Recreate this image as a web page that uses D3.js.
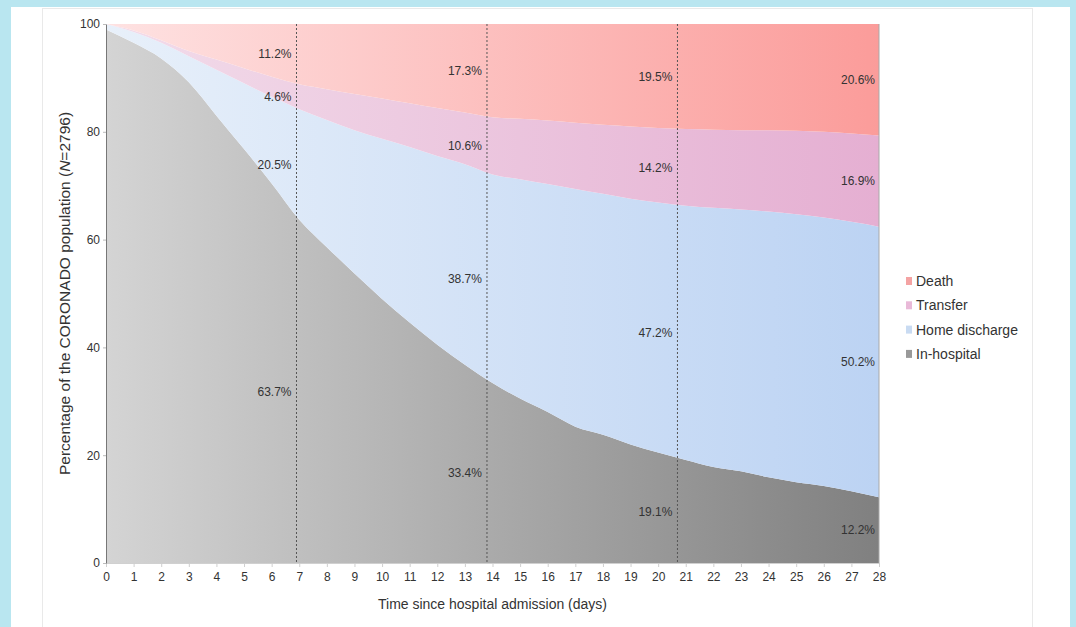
<!DOCTYPE html>
<html>
<head>
<meta charset="utf-8">
<script src="https://cdn.jsdelivr.net/npm/d3@7/dist/d3.min.js"></script>
<style>
  html, body { margin: 0; padding: 0; background: #b9e6f0; }
  svg { display: block; }
  text { font-family: "Liberation Sans", Arial, Helvetica, sans-serif; fill: #333; }
</style>
</head>
<body>
<svg id="chart" width="1076" height="627"></svg>
<script>
// ---- data ----
const days = [0,1,2,3,4,5,6,7,8,9,10,11,12,13,14,15,16,17,18,19,20,21,22,23,24,25,26,27,28];
const inHospital = [99,96.5,93.6,89.2,83.0,76.8,70.4,63.7,58.6,53.7,49.0,44.6,40.5,36.8,33.4,30.5,28,25.3,23.8,22,20.5,19.1,17.8,17,15.9,15,14.3,13.3,12.2];
const homeDischarge = [1,2,2.9,4.8,8.5,12.2,16.1,20.5,23.6,26.6,29.7,32.6,35.0,37.2,38.7,40.7,42.3,44.1,44.7,45.6,46.4,47.2,48.1,48.6,49.3,49.7,49.8,50,50.2];
const transfer = [0,0.3,0.5,1.0,1.9,2.8,3.7,4.6,5.7,6.7,7.5,8.1,8.9,9.6,10.6,11.2,11.8,12.3,12.8,13.4,13.8,14.2,14.5,14.7,15.1,15.5,15.9,16.4,16.9];
const death = [0,1.2,3.0,5.0,6.6,8.2,9.8,11.2,12.1,13.0,13.8,14.7,15.6,16.4,17.3,17.6,17.9,18.3,18.7,19.0,19.3,19.5,19.6,19.7,19.7,19.8,20.0,20.3,20.7];

const seriesKeys = ["inHospital", "home", "transfer", "death"];
const seriesNames = ["In-hospital", "Home discharge", "Transfer", "Death"];

// annotated time points (dashed lines) and their percentage labels
const markerDays = [6.9, 13.8, 20.7];
const labelDays = [6.9, 13.8, 20.7, 28];
const labelInHospital = [63.7, 33.4, 19.1, 12.2];
const labelHome = [20.5, 38.7, 47.2, 50.2];
const labelTransfer = [4.6, 10.6, 14.2, 16.9];
const labelDeath = [11.2, 17.3, 19.5, 20.6];

const yTicks = [0, 20, 40, 60, 80, 100];

// ---- styles ----
const gradStops = {
  inHospital: ["#d4d4d4", "#808080"],
  home: ["#e8f0fa", "#bcd3f3"],
  transfer: ["#f2dcea", "#e5afd2"],
  death: ["#fee2e2", "#fb9c9a"]
};
const legendColors = { death: "#f4a3a3", transfer: "#e9b9d8", home: "#c9dbf2", inHospital: "#999999" };

const svg = d3.select("#chart");

// card and panel
svg.append("rect").attr("x", 11).attr("y", 7).attr("width", 1059).attr("height", 640).attr("fill", "#fff");
svg.append("rect").attr("x", 42.5).attr("y", 8.5).attr("width", 990).attr("height", 640)
  .attr("fill", "none").attr("stroke", "#e9e9e9");

const x = d3.scaleLinear().domain([0, 28]).range([106, 879]);
const y = d3.scaleLinear().domain([0, 100]).range([563, 24]);

const table = days.map((d, i) => ({
  day: d,
  inHospital: inHospital[i],
  home: homeDischarge[i],
  transfer: transfer[i],
  death: death[i]
}));

const stack = d3.stack().keys(seriesKeys);
const stacked = stack(table);

const defs = svg.append("defs");
seriesKeys.forEach(k => {
  const g = defs.append("linearGradient").attr("id", "g-" + k)
    .attr("gradientUnits", "userSpaceOnUse")
    .attr("x1", x(0)).attr("x2", x(28)).attr("y1", 0).attr("y2", 0);
  g.append("stop").attr("offset", "0%").attr("stop-color", gradStops[k][0]);
  g.append("stop").attr("offset", "100%").attr("stop-color", gradStops[k][1]);
});

const area = d3.area()
  .x(d => x(d.data.day))
  .y0(d => y(d[0]))
  .y1(d => y(d[1]))
  .curve(d3.curveMonotoneX);

svg.append("g").selectAll("path").data(stacked).join("path")
  .attr("d", area)
  .attr("fill", d => "url(#g-" + d.key + ")");

// x axis
const xAxis = d3.axisBottom(x).tickValues(days).tickSize(4).tickSizeOuter(0).tickPadding(5);
const gx = svg.append("g").attr("transform", `translate(0,${y(0)})`).call(xAxis);
gx.select(".domain").attr("stroke", "#d0d0d0");
gx.selectAll(".tick line").attr("stroke", "#cfcfcf");
gx.selectAll(".tick text").attr("font-size", 12).attr("fill", "#333")
  .style("font-family", "'Liberation Sans', Arial, sans-serif");

// y axis
const yAxis = d3.axisLeft(y).tickValues(yTicks).tickSize(3).tickSizeOuter(0).tickPadding(3);
const gy = svg.append("g").attr("transform", `translate(${x(0)},0)`).call(yAxis);
gy.select(".domain").attr("stroke", "#777");
gy.selectAll(".tick line").attr("stroke", "#bbb");
gy.selectAll(".tick text").attr("font-size", 12).attr("fill", "#333")
  .style("font-family", "'Liberation Sans', Arial, sans-serif");

// right border
svg.append("line").attr("x1", x(28)).attr("x2", x(28)).attr("y1", y(100)).attr("y2", y(0))
  .attr("stroke", "#a9a9a9");

// dashed marker lines
svg.append("g").selectAll("line").data(markerDays).join("line")
  .attr("x1", d => x(d)).attr("x2", d => x(d))
  .attr("y1", y(100)).attr("y2", y(0))
  .attr("stroke", "#555").attr("stroke-width", 1).attr("stroke-dasharray", "2,2");

// percentage labels at segment midpoints
const labelG = svg.append("g");
labelDays.forEach((d, i) => {
  const segs = [labelInHospital[i], labelHome[i], labelTransfer[i], labelDeath[i]];
  let base = 0;
  segs.forEach(v => {
    const mid = base + v / 2;
    base += v;
    labelG.append("text")
      .attr("x", x(d) - (i === 3 ? 4 : 5))
      .attr("y", y(mid))
      .attr("dy", "0.35em")
      .attr("text-anchor", "end")
      .attr("font-size", 12)
      .text(v.toFixed(1) + "%");
  });
});

// axis titles
svg.append("text").attr("x", (x(0) + x(28)) / 2).attr("y", 609)
  .attr("text-anchor", "middle").attr("font-size", 14)
  .text("Time since hospital admission (days)");

const yt = svg.append("text")
  .attr("transform", `translate(70,${(y(0) + y(100)) / 2}) rotate(-90)`)
  .attr("text-anchor", "middle").attr("font-size", 15.5);
yt.append("tspan").text("Percentage of the CORONADO population (");
yt.append("tspan").attr("font-style", "italic").text("N");
yt.append("tspan").text("=2796)");

// legend
const legendOrder = ["death", "transfer", "home", "inHospital"];
const legend = svg.append("g");
legendOrder.forEach((k, i) => {
  const cy = 281 + i * 24.3;
  legend.append("rect").attr("x", 906).attr("y", cy - 4).attr("width", 6).attr("height", 8)
    .attr("fill", legendColors[k]);
  legend.append("text").attr("x", 916).attr("y", cy).attr("dy", "0.35em")
    .attr("font-size", 14).text(seriesNames[seriesKeys.indexOf(k)]);
});
</script>
</body>
</html>
